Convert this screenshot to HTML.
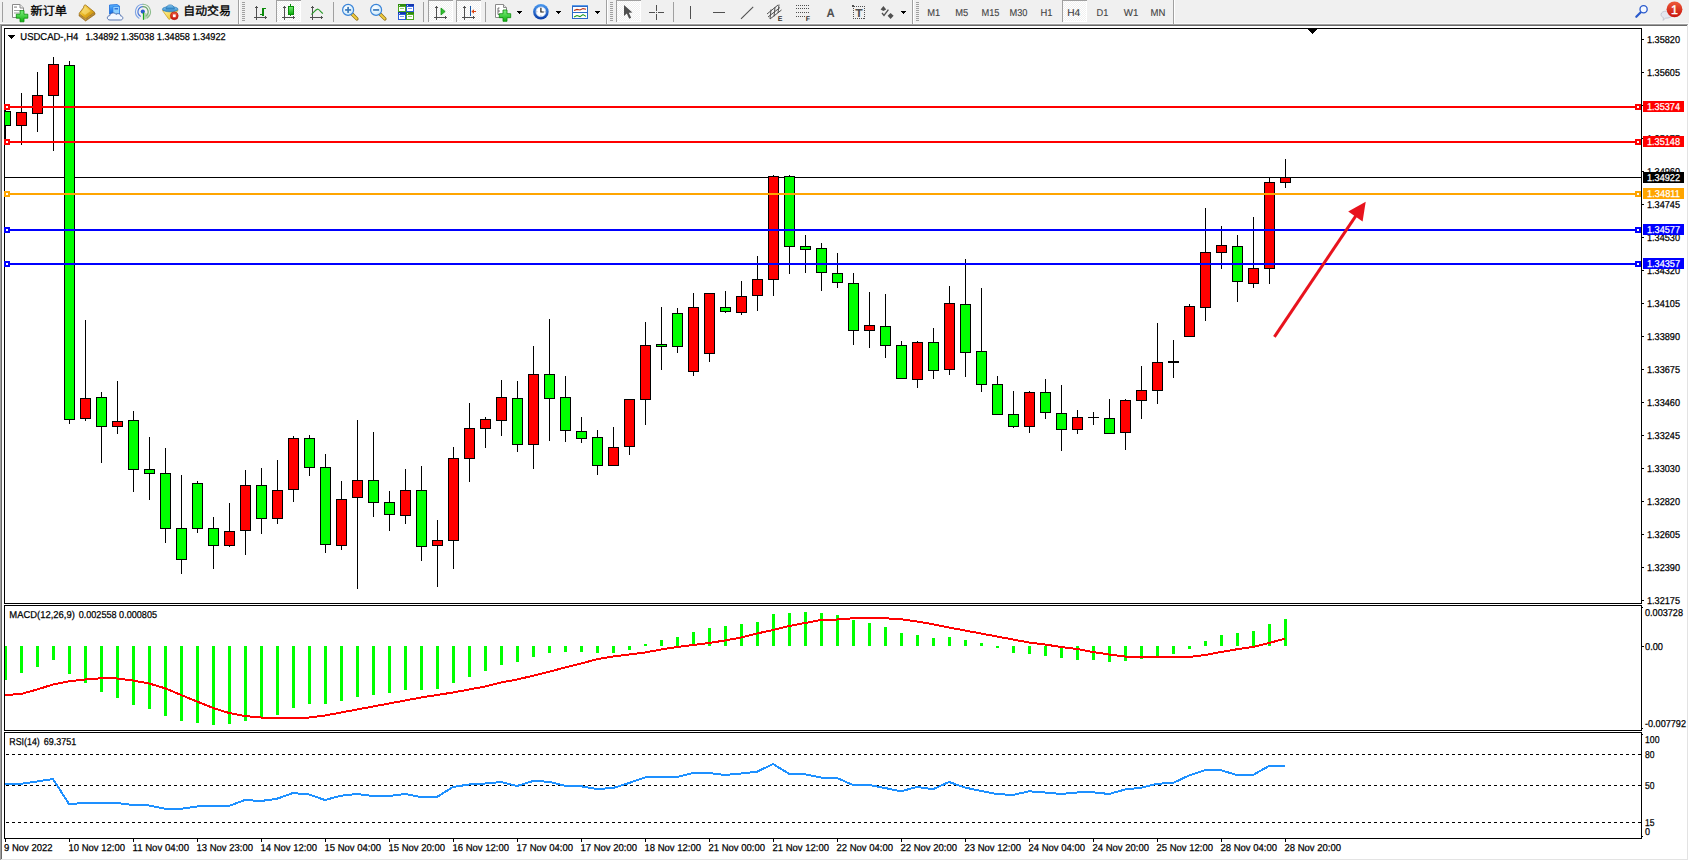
<!DOCTYPE html>
<html lang="zh"><head><meta charset="utf-8"><title>USDCAD-,H4</title>
<style>
html,body{margin:0;padding:0;background:#fff;width:1689px;height:861px;overflow:hidden}
svg{display:block;position:absolute;left:0;top:0}
text{font-family:"Liberation Sans","Noto Sans CJK SC",sans-serif;white-space:pre;text-rendering:geometricPrecision}
.c{shape-rendering:crispEdges}
</style></head><body>
<svg width="1689" height="861" viewBox="0 0 1689 861">
<g class="c">
<rect x="0" y="0" width="1689" height="861" fill="#FFFFFF"/>
<rect x="0" y="0" width="1689" height="24" fill="#F0F0F0"/>
<rect x="0" y="23" width="1689" height="1" fill="#FAFAFA"/>
<rect x="0" y="24" width="1689" height="1" fill="#A0A0A0"/>
<rect x="0" y="25" width="1688" height="1" fill="#696969"/>
<rect x="0" y="24" width="1" height="837" fill="#A0A0A0"/>
<rect x="1" y="25" width="1" height="835" fill="#696969"/>
<rect x="1687" y="25" width="1" height="835" fill="#E3E3E3"/>
<rect x="1688" y="24" width="1" height="837" fill="#FFFFFF"/>
<rect x="1" y="859" width="1687" height="1" fill="#E3E3E3"/>
<rect x="0" y="860" width="1689" height="1" fill="#FFFFFF"/>
</g>
<g class="c" fill="none" stroke="#000" stroke-width="1">
<rect x="4.5" y="28.5" width="1637" height="575"/>
<rect x="4.5" y="605.5" width="1637" height="125"/>
<rect x="4.5" y="732.5" width="1637" height="106"/>
</g>
<g class="c">
<rect x="5" y="177" width="1636" height="1" fill="#000"/>
</g>
<g class="c">
<rect x="5" y="106" width="1" height="33" fill="#000"/>
<rect x="5" y="111" width="6" height="15" fill="#000"/>
<rect x="5" y="112" width="5" height="13" fill="#00FF00"/>
<rect x="21" y="93" width="1" height="52" fill="#000"/>
<rect x="16" y="112" width="11" height="14" fill="#000"/>
<rect x="17" y="113" width="9" height="12" fill="#FF0000"/>
<rect x="37" y="72" width="1" height="60" fill="#000"/>
<rect x="32" y="95" width="11" height="19" fill="#000"/>
<rect x="33" y="96" width="9" height="17" fill="#FF0000"/>
<rect x="53" y="57" width="1" height="94" fill="#000"/>
<rect x="48" y="64" width="11" height="32" fill="#000"/>
<rect x="49" y="65" width="9" height="30" fill="#FF0000"/>
<rect x="69" y="61" width="1" height="363" fill="#000"/>
<rect x="64" y="65" width="11" height="355" fill="#000"/>
<rect x="65" y="66" width="9" height="353" fill="#00FF00"/>
<rect x="85" y="320" width="1" height="101" fill="#000"/>
<rect x="80" y="398" width="11" height="21" fill="#000"/>
<rect x="81" y="399" width="9" height="19" fill="#FF0000"/>
<rect x="101" y="392" width="1" height="71" fill="#000"/>
<rect x="96" y="397" width="11" height="30" fill="#000"/>
<rect x="97" y="398" width="9" height="28" fill="#00FF00"/>
<rect x="117" y="381" width="1" height="53" fill="#000"/>
<rect x="112" y="421" width="11" height="6" fill="#000"/>
<rect x="113" y="422" width="9" height="4" fill="#FF0000"/>
<rect x="133" y="411" width="1" height="81" fill="#000"/>
<rect x="128" y="420" width="11" height="50" fill="#000"/>
<rect x="129" y="421" width="9" height="48" fill="#00FF00"/>
<rect x="149" y="437" width="1" height="63" fill="#000"/>
<rect x="144" y="469" width="11" height="5" fill="#000"/>
<rect x="145" y="470" width="9" height="3" fill="#00FF00"/>
<rect x="165" y="448" width="1" height="95" fill="#000"/>
<rect x="160" y="473" width="11" height="56" fill="#000"/>
<rect x="161" y="474" width="9" height="54" fill="#00FF00"/>
<rect x="181" y="475" width="1" height="99" fill="#000"/>
<rect x="176" y="528" width="11" height="32" fill="#000"/>
<rect x="177" y="529" width="9" height="30" fill="#00FF00"/>
<rect x="197" y="481" width="1" height="52" fill="#000"/>
<rect x="192" y="483" width="11" height="46" fill="#000"/>
<rect x="193" y="484" width="9" height="44" fill="#00FF00"/>
<rect x="213" y="517" width="1" height="52" fill="#000"/>
<rect x="208" y="528" width="11" height="18" fill="#000"/>
<rect x="209" y="529" width="9" height="16" fill="#00FF00"/>
<rect x="229" y="503" width="1" height="44" fill="#000"/>
<rect x="224" y="531" width="11" height="15" fill="#000"/>
<rect x="225" y="532" width="9" height="13" fill="#FF0000"/>
<rect x="245" y="470" width="1" height="85" fill="#000"/>
<rect x="240" y="485" width="11" height="46" fill="#000"/>
<rect x="241" y="486" width="9" height="44" fill="#FF0000"/>
<rect x="261" y="468" width="1" height="66" fill="#000"/>
<rect x="256" y="485" width="11" height="34" fill="#000"/>
<rect x="257" y="486" width="9" height="32" fill="#00FF00"/>
<rect x="277" y="460" width="1" height="64" fill="#000"/>
<rect x="272" y="490" width="11" height="29" fill="#000"/>
<rect x="273" y="491" width="9" height="27" fill="#FF0000"/>
<rect x="293" y="436" width="1" height="66" fill="#000"/>
<rect x="288" y="438" width="11" height="52" fill="#000"/>
<rect x="289" y="439" width="9" height="50" fill="#FF0000"/>
<rect x="309" y="435" width="1" height="41" fill="#000"/>
<rect x="304" y="438" width="11" height="30" fill="#000"/>
<rect x="305" y="439" width="9" height="28" fill="#00FF00"/>
<rect x="325" y="454" width="1" height="99" fill="#000"/>
<rect x="320" y="467" width="11" height="78" fill="#000"/>
<rect x="321" y="468" width="9" height="76" fill="#00FF00"/>
<rect x="341" y="481" width="1" height="69" fill="#000"/>
<rect x="336" y="499" width="11" height="47" fill="#000"/>
<rect x="337" y="500" width="9" height="45" fill="#FF0000"/>
<rect x="357" y="420" width="1" height="169" fill="#000"/>
<rect x="352" y="480" width="11" height="18" fill="#000"/>
<rect x="353" y="481" width="9" height="16" fill="#FF0000"/>
<rect x="373" y="432" width="1" height="85" fill="#000"/>
<rect x="368" y="480" width="11" height="23" fill="#000"/>
<rect x="369" y="481" width="9" height="21" fill="#00FF00"/>
<rect x="389" y="491" width="1" height="40" fill="#000"/>
<rect x="384" y="502" width="11" height="13" fill="#000"/>
<rect x="385" y="503" width="9" height="11" fill="#00FF00"/>
<rect x="405" y="469" width="1" height="55" fill="#000"/>
<rect x="400" y="490" width="11" height="26" fill="#000"/>
<rect x="401" y="491" width="9" height="24" fill="#FF0000"/>
<rect x="421" y="466" width="1" height="95" fill="#000"/>
<rect x="416" y="490" width="11" height="57" fill="#000"/>
<rect x="417" y="491" width="9" height="55" fill="#00FF00"/>
<rect x="437" y="520" width="1" height="67" fill="#000"/>
<rect x="432" y="540" width="11" height="6" fill="#000"/>
<rect x="433" y="541" width="9" height="4" fill="#FF0000"/>
<rect x="453" y="447" width="1" height="122" fill="#000"/>
<rect x="448" y="458" width="11" height="83" fill="#000"/>
<rect x="449" y="459" width="9" height="81" fill="#FF0000"/>
<rect x="469" y="403" width="1" height="79" fill="#000"/>
<rect x="464" y="428" width="11" height="31" fill="#000"/>
<rect x="465" y="429" width="9" height="29" fill="#FF0000"/>
<rect x="485" y="417" width="1" height="31" fill="#000"/>
<rect x="480" y="419" width="11" height="10" fill="#000"/>
<rect x="481" y="420" width="9" height="8" fill="#FF0000"/>
<rect x="501" y="380" width="1" height="56" fill="#000"/>
<rect x="496" y="397" width="11" height="24" fill="#000"/>
<rect x="497" y="398" width="9" height="22" fill="#FF0000"/>
<rect x="517" y="381" width="1" height="71" fill="#000"/>
<rect x="512" y="398" width="11" height="47" fill="#000"/>
<rect x="513" y="399" width="9" height="45" fill="#00FF00"/>
<rect x="533" y="346" width="1" height="123" fill="#000"/>
<rect x="528" y="374" width="11" height="71" fill="#000"/>
<rect x="529" y="375" width="9" height="69" fill="#FF0000"/>
<rect x="549" y="319" width="1" height="122" fill="#000"/>
<rect x="544" y="374" width="11" height="25" fill="#000"/>
<rect x="545" y="375" width="9" height="23" fill="#00FF00"/>
<rect x="565" y="376" width="1" height="66" fill="#000"/>
<rect x="560" y="397" width="11" height="34" fill="#000"/>
<rect x="561" y="398" width="9" height="32" fill="#00FF00"/>
<rect x="581" y="417" width="1" height="26" fill="#000"/>
<rect x="576" y="431" width="11" height="8" fill="#000"/>
<rect x="577" y="432" width="9" height="6" fill="#00FF00"/>
<rect x="597" y="430" width="1" height="45" fill="#000"/>
<rect x="592" y="437" width="11" height="29" fill="#000"/>
<rect x="593" y="438" width="9" height="27" fill="#00FF00"/>
<rect x="613" y="427" width="1" height="39" fill="#000"/>
<rect x="608" y="447" width="11" height="19" fill="#000"/>
<rect x="609" y="448" width="9" height="17" fill="#FF0000"/>
<rect x="629" y="399" width="1" height="56" fill="#000"/>
<rect x="624" y="399" width="11" height="48" fill="#000"/>
<rect x="625" y="400" width="9" height="46" fill="#FF0000"/>
<rect x="645" y="322" width="1" height="103" fill="#000"/>
<rect x="640" y="345" width="11" height="55" fill="#000"/>
<rect x="641" y="346" width="9" height="53" fill="#FF0000"/>
<rect x="661" y="307" width="1" height="63" fill="#000"/>
<rect x="656" y="344" width="11" height="3" fill="#000"/>
<rect x="657" y="345" width="9" height="1" fill="#00FF00"/>
<rect x="677" y="308" width="1" height="45" fill="#000"/>
<rect x="672" y="313" width="11" height="34" fill="#000"/>
<rect x="673" y="314" width="9" height="32" fill="#00FF00"/>
<rect x="693" y="293" width="1" height="83" fill="#000"/>
<rect x="688" y="307" width="11" height="65" fill="#000"/>
<rect x="689" y="308" width="9" height="63" fill="#FF0000"/>
<rect x="709" y="293" width="1" height="69" fill="#000"/>
<rect x="704" y="293" width="11" height="61" fill="#000"/>
<rect x="705" y="294" width="9" height="59" fill="#FF0000"/>
<rect x="725" y="291" width="1" height="22" fill="#000"/>
<rect x="720" y="307" width="11" height="5" fill="#000"/>
<rect x="721" y="308" width="9" height="3" fill="#00FF00"/>
<rect x="741" y="281" width="1" height="34" fill="#000"/>
<rect x="736" y="296" width="11" height="17" fill="#000"/>
<rect x="737" y="297" width="9" height="15" fill="#FF0000"/>
<rect x="757" y="256" width="1" height="55" fill="#000"/>
<rect x="752" y="279" width="11" height="17" fill="#000"/>
<rect x="753" y="280" width="9" height="15" fill="#FF0000"/>
<rect x="773" y="175" width="1" height="121" fill="#000"/>
<rect x="768" y="176" width="11" height="104" fill="#000"/>
<rect x="769" y="177" width="9" height="102" fill="#FF0000"/>
<rect x="789" y="175" width="1" height="99" fill="#000"/>
<rect x="784" y="176" width="11" height="71" fill="#000"/>
<rect x="785" y="177" width="9" height="69" fill="#00FF00"/>
<rect x="805" y="235" width="1" height="38" fill="#000"/>
<rect x="800" y="246" width="11" height="4" fill="#000"/>
<rect x="801" y="247" width="9" height="2" fill="#00FF00"/>
<rect x="821" y="243" width="1" height="48" fill="#000"/>
<rect x="816" y="248" width="11" height="25" fill="#000"/>
<rect x="817" y="249" width="9" height="23" fill="#00FF00"/>
<rect x="837" y="253" width="1" height="35" fill="#000"/>
<rect x="832" y="273" width="11" height="10" fill="#000"/>
<rect x="833" y="274" width="9" height="8" fill="#00FF00"/>
<rect x="853" y="273" width="1" height="72" fill="#000"/>
<rect x="848" y="283" width="11" height="48" fill="#000"/>
<rect x="849" y="284" width="9" height="46" fill="#00FF00"/>
<rect x="869" y="292" width="1" height="56" fill="#000"/>
<rect x="864" y="325" width="11" height="6" fill="#000"/>
<rect x="865" y="326" width="9" height="4" fill="#FF0000"/>
<rect x="885" y="294" width="1" height="64" fill="#000"/>
<rect x="880" y="326" width="11" height="20" fill="#000"/>
<rect x="881" y="327" width="9" height="18" fill="#00FF00"/>
<rect x="901" y="341" width="1" height="38" fill="#000"/>
<rect x="896" y="345" width="11" height="34" fill="#000"/>
<rect x="897" y="346" width="9" height="32" fill="#00FF00"/>
<rect x="917" y="341" width="1" height="47" fill="#000"/>
<rect x="912" y="342" width="11" height="38" fill="#000"/>
<rect x="913" y="343" width="9" height="36" fill="#FF0000"/>
<rect x="933" y="328" width="1" height="51" fill="#000"/>
<rect x="928" y="342" width="11" height="29" fill="#000"/>
<rect x="929" y="343" width="9" height="27" fill="#00FF00"/>
<rect x="949" y="286" width="1" height="89" fill="#000"/>
<rect x="944" y="303" width="11" height="67" fill="#000"/>
<rect x="945" y="304" width="9" height="65" fill="#FF0000"/>
<rect x="965" y="259" width="1" height="118" fill="#000"/>
<rect x="960" y="304" width="11" height="49" fill="#000"/>
<rect x="961" y="305" width="9" height="47" fill="#00FF00"/>
<rect x="981" y="288" width="1" height="104" fill="#000"/>
<rect x="976" y="351" width="11" height="34" fill="#000"/>
<rect x="977" y="352" width="9" height="32" fill="#00FF00"/>
<rect x="997" y="376" width="1" height="39" fill="#000"/>
<rect x="992" y="384" width="11" height="31" fill="#000"/>
<rect x="993" y="385" width="9" height="29" fill="#00FF00"/>
<rect x="1013" y="391" width="1" height="37" fill="#000"/>
<rect x="1008" y="414" width="11" height="13" fill="#000"/>
<rect x="1009" y="415" width="9" height="11" fill="#00FF00"/>
<rect x="1029" y="391" width="1" height="42" fill="#000"/>
<rect x="1024" y="392" width="11" height="35" fill="#000"/>
<rect x="1025" y="393" width="9" height="33" fill="#FF0000"/>
<rect x="1045" y="379" width="1" height="40" fill="#000"/>
<rect x="1040" y="392" width="11" height="21" fill="#000"/>
<rect x="1041" y="393" width="9" height="19" fill="#00FF00"/>
<rect x="1061" y="385" width="1" height="66" fill="#000"/>
<rect x="1056" y="413" width="11" height="17" fill="#000"/>
<rect x="1057" y="414" width="9" height="15" fill="#00FF00"/>
<rect x="1077" y="410" width="1" height="24" fill="#000"/>
<rect x="1072" y="417" width="11" height="13" fill="#000"/>
<rect x="1073" y="418" width="9" height="11" fill="#FF0000"/>
<rect x="1093" y="412" width="1" height="13" fill="#000"/>
<rect x="1088" y="417" width="11" height="1" fill="#000"/>
<rect x="1109" y="399" width="1" height="35" fill="#000"/>
<rect x="1104" y="418" width="11" height="16" fill="#000"/>
<rect x="1105" y="419" width="9" height="14" fill="#00FF00"/>
<rect x="1125" y="399" width="1" height="51" fill="#000"/>
<rect x="1120" y="400" width="11" height="33" fill="#000"/>
<rect x="1121" y="401" width="9" height="31" fill="#FF0000"/>
<rect x="1141" y="366" width="1" height="53" fill="#000"/>
<rect x="1136" y="390" width="11" height="11" fill="#000"/>
<rect x="1137" y="391" width="9" height="9" fill="#FF0000"/>
<rect x="1157" y="323" width="1" height="81" fill="#000"/>
<rect x="1152" y="362" width="11" height="29" fill="#000"/>
<rect x="1153" y="363" width="9" height="27" fill="#FF0000"/>
<rect x="1173" y="340" width="1" height="38" fill="#000"/>
<rect x="1168" y="361" width="11" height="2" fill="#000"/>
<rect x="1189" y="304" width="1" height="33" fill="#000"/>
<rect x="1184" y="306" width="11" height="31" fill="#000"/>
<rect x="1185" y="307" width="9" height="29" fill="#FF0000"/>
<rect x="1205" y="208" width="1" height="113" fill="#000"/>
<rect x="1200" y="252" width="11" height="56" fill="#000"/>
<rect x="1201" y="253" width="9" height="54" fill="#FF0000"/>
<rect x="1221" y="226" width="1" height="43" fill="#000"/>
<rect x="1216" y="245" width="11" height="8" fill="#000"/>
<rect x="1217" y="246" width="9" height="6" fill="#FF0000"/>
<rect x="1237" y="235" width="1" height="67" fill="#000"/>
<rect x="1232" y="246" width="11" height="36" fill="#000"/>
<rect x="1233" y="247" width="9" height="34" fill="#00FF00"/>
<rect x="1253" y="217" width="1" height="71" fill="#000"/>
<rect x="1248" y="268" width="11" height="16" fill="#000"/>
<rect x="1249" y="269" width="9" height="14" fill="#FF0000"/>
<rect x="1269" y="177" width="1" height="107" fill="#000"/>
<rect x="1264" y="182" width="11" height="87" fill="#000"/>
<rect x="1265" y="183" width="9" height="85" fill="#FF0000"/>
<rect x="1285" y="159" width="1" height="29" fill="#000"/>
<rect x="1280" y="177" width="11" height="6" fill="#000"/>
<rect x="1281" y="178" width="9" height="4" fill="#FF0000"/>
</g>
<g class="c">
<rect x="5" y="106" width="1636" height="2" fill="#FF0000"/>
<rect x="4" y="104" width="6" height="6" fill="#FF0000"/>
<rect x="6" y="106" width="2" height="2" fill="#FFF"/>
<rect x="1635" y="104" width="6" height="6" fill="#FF0000"/>
<rect x="1637" y="106" width="2" height="2" fill="#FFF"/>
<rect x="5" y="141" width="1636" height="2" fill="#FF0000"/>
<rect x="4" y="139" width="6" height="6" fill="#FF0000"/>
<rect x="6" y="141" width="2" height="2" fill="#FFF"/>
<rect x="1635" y="139" width="6" height="6" fill="#FF0000"/>
<rect x="1637" y="141" width="2" height="2" fill="#FFF"/>
<rect x="5" y="193" width="1636" height="2" fill="#FFA500"/>
<rect x="4" y="191" width="6" height="6" fill="#FFA500"/>
<rect x="6" y="193" width="2" height="2" fill="#FFF"/>
<rect x="1635" y="191" width="6" height="6" fill="#FFA500"/>
<rect x="1637" y="193" width="2" height="2" fill="#FFF"/>
<rect x="5" y="229" width="1636" height="2" fill="#0000FF"/>
<rect x="4" y="227" width="6" height="6" fill="#0000FF"/>
<rect x="6" y="229" width="2" height="2" fill="#FFF"/>
<rect x="1635" y="227" width="6" height="6" fill="#0000FF"/>
<rect x="1637" y="229" width="2" height="2" fill="#FFF"/>
<rect x="5" y="263" width="1636" height="2" fill="#0000FF"/>
<rect x="4" y="261" width="6" height="6" fill="#0000FF"/>
<rect x="6" y="263" width="2" height="2" fill="#FFF"/>
<rect x="1635" y="261" width="6" height="6" fill="#0000FF"/>
<rect x="1637" y="263" width="2" height="2" fill="#FFF"/>
</g>
<g>
<line x1="1274.4" y1="336.9" x2="1356" y2="215.6" stroke="#E8131D" stroke-width="3"/>
<polygon points="1365.7,201.8 1348.2,211.5 1362.6,221.5" fill="#E8131D"/>
</g>
<g class="c">
<rect x="1308" y="29" width="9" height="1" fill="#000"/>
<rect x="1309" y="30" width="7" height="1" fill="#000"/>
<rect x="1310" y="31" width="5" height="1" fill="#000"/>
<rect x="1311" y="32" width="3" height="1" fill="#000"/>
<rect x="1312" y="33" width="1" height="1" fill="#000"/>
</g>
<g class="c">
<rect x="5" y="646" width="2" height="34" fill="#00FF00"/>
<rect x="20" y="646" width="3" height="27" fill="#00FF00"/>
<rect x="36" y="646" width="3" height="21" fill="#00FF00"/>
<rect x="52" y="646" width="3" height="14" fill="#00FF00"/>
<rect x="68" y="646" width="3" height="28" fill="#00FF00"/>
<rect x="84" y="646" width="3" height="37" fill="#00FF00"/>
<rect x="100" y="646" width="3" height="46" fill="#00FF00"/>
<rect x="116" y="646" width="3" height="52" fill="#00FF00"/>
<rect x="132" y="646" width="3" height="59" fill="#00FF00"/>
<rect x="148" y="646" width="3" height="63" fill="#00FF00"/>
<rect x="164" y="646" width="3" height="70" fill="#00FF00"/>
<rect x="180" y="646" width="3" height="75" fill="#00FF00"/>
<rect x="196" y="646" width="3" height="77" fill="#00FF00"/>
<rect x="212" y="646" width="3" height="79" fill="#00FF00"/>
<rect x="228" y="646" width="3" height="78" fill="#00FF00"/>
<rect x="244" y="646" width="3" height="75" fill="#00FF00"/>
<rect x="260" y="646" width="3" height="72" fill="#00FF00"/>
<rect x="276" y="646" width="3" height="69" fill="#00FF00"/>
<rect x="292" y="646" width="3" height="62" fill="#00FF00"/>
<rect x="308" y="646" width="3" height="58" fill="#00FF00"/>
<rect x="324" y="646" width="3" height="58" fill="#00FF00"/>
<rect x="340" y="646" width="3" height="55" fill="#00FF00"/>
<rect x="356" y="646" width="3" height="51" fill="#00FF00"/>
<rect x="372" y="646" width="3" height="49" fill="#00FF00"/>
<rect x="388" y="646" width="3" height="47" fill="#00FF00"/>
<rect x="404" y="646" width="3" height="44" fill="#00FF00"/>
<rect x="420" y="646" width="3" height="44" fill="#00FF00"/>
<rect x="436" y="646" width="3" height="43" fill="#00FF00"/>
<rect x="452" y="646" width="3" height="37" fill="#00FF00"/>
<rect x="468" y="646" width="3" height="31" fill="#00FF00"/>
<rect x="484" y="646" width="3" height="25" fill="#00FF00"/>
<rect x="500" y="646" width="3" height="19" fill="#00FF00"/>
<rect x="516" y="646" width="3" height="16" fill="#00FF00"/>
<rect x="532" y="646" width="3" height="11" fill="#00FF00"/>
<rect x="548" y="646" width="3" height="7" fill="#00FF00"/>
<rect x="564" y="646" width="3" height="6" fill="#00FF00"/>
<rect x="580" y="646" width="3" height="6" fill="#00FF00"/>
<rect x="596" y="646" width="3" height="7" fill="#00FF00"/>
<rect x="612" y="646" width="3" height="7" fill="#00FF00"/>
<rect x="628" y="646" width="3" height="4" fill="#00FF00"/>
<rect x="644" y="644" width="3" height="2" fill="#00FF00"/>
<rect x="660" y="640" width="3" height="6" fill="#00FF00"/>
<rect x="676" y="637" width="3" height="9" fill="#00FF00"/>
<rect x="692" y="632" width="3" height="14" fill="#00FF00"/>
<rect x="708" y="628" width="3" height="18" fill="#00FF00"/>
<rect x="724" y="626" width="3" height="20" fill="#00FF00"/>
<rect x="740" y="624" width="3" height="22" fill="#00FF00"/>
<rect x="756" y="622" width="3" height="24" fill="#00FF00"/>
<rect x="772" y="614" width="3" height="32" fill="#00FF00"/>
<rect x="788" y="613" width="3" height="33" fill="#00FF00"/>
<rect x="804" y="612" width="3" height="34" fill="#00FF00"/>
<rect x="820" y="613" width="3" height="33" fill="#00FF00"/>
<rect x="836" y="615" width="3" height="31" fill="#00FF00"/>
<rect x="852" y="620" width="3" height="26" fill="#00FF00"/>
<rect x="868" y="623" width="3" height="23" fill="#00FF00"/>
<rect x="884" y="627" width="3" height="19" fill="#00FF00"/>
<rect x="900" y="633" width="3" height="13" fill="#00FF00"/>
<rect x="916" y="635" width="3" height="11" fill="#00FF00"/>
<rect x="932" y="638" width="3" height="8" fill="#00FF00"/>
<rect x="948" y="637" width="3" height="9" fill="#00FF00"/>
<rect x="964" y="640" width="3" height="6" fill="#00FF00"/>
<rect x="980" y="643" width="3" height="3" fill="#00FF00"/>
<rect x="996" y="646" width="3" height="2" fill="#00FF00"/>
<rect x="1012" y="646" width="3" height="7" fill="#00FF00"/>
<rect x="1028" y="646" width="3" height="8" fill="#00FF00"/>
<rect x="1044" y="646" width="3" height="10" fill="#00FF00"/>
<rect x="1060" y="646" width="3" height="12" fill="#00FF00"/>
<rect x="1076" y="646" width="3" height="14" fill="#00FF00"/>
<rect x="1092" y="646" width="3" height="14" fill="#00FF00"/>
<rect x="1108" y="646" width="3" height="16" fill="#00FF00"/>
<rect x="1124" y="646" width="3" height="15" fill="#00FF00"/>
<rect x="1140" y="646" width="3" height="13" fill="#00FF00"/>
<rect x="1156" y="646" width="3" height="10" fill="#00FF00"/>
<rect x="1172" y="646" width="3" height="8" fill="#00FF00"/>
<rect x="1188" y="646" width="3" height="3" fill="#00FF00"/>
<rect x="1204" y="641" width="3" height="5" fill="#00FF00"/>
<rect x="1220" y="635" width="3" height="11" fill="#00FF00"/>
<rect x="1236" y="633" width="3" height="13" fill="#00FF00"/>
<rect x="1252" y="631" width="3" height="15" fill="#00FF00"/>
<rect x="1268" y="624" width="3" height="22" fill="#00FF00"/>
<rect x="1284" y="619" width="3" height="27" fill="#00FF00"/>
<polyline points="5,695.00 21,694.00 37,689.50 53,684.50 69,681.25 85,679.50 101,678.25 117,678.50 133,680.50 149,683.50 165,688.25 181,695.00 197,701.50 213,708.00 229,713.00 245,716.00 261,717.50 277,717.50 293,717.50 309,717.50 325,715.50 341,712.50 357,709.50 373,706.50 389,703.50 405,700.50 421,697.50 437,695.00 453,692.50 469,689.50 485,686.50 501,682.50 517,679.50 533,675.75 549,671.75 565,667.50 581,663.50 597,659.25 613,656.50 629,654.50 645,652.50 661,649.50 677,647.00 693,645.00 709,643.00 725,640.50 741,637.50 757,633.50 773,630.00 789,626.00 805,623.00 821,620.00 837,619.50 853,618.25 869,618.00 885,618.25 901,619.25 917,621.50 933,624.25 949,627.50 965,630.50 981,633.50 997,636.50 1013,639.50 1029,642.50 1045,644.50 1061,647.00 1077,649.00 1093,652.00 1109,654.50 1125,656.50 1141,657.00 1157,657.00 1173,657.00 1189,657.00 1205,655.00 1221,652.00 1237,649.25 1253,647.00 1269,643.00 1285,638.75" fill="none" stroke="#FF0000" stroke-width="2" stroke-linejoin="round"/>
</g>
<g class="c">
<line x1="6" y1="754.5" x2="1641" y2="754.5" stroke="#000" stroke-width="1" stroke-dasharray="3 3"/>
<line x1="6" y1="785.5" x2="1641" y2="785.5" stroke="#000" stroke-width="1" stroke-dasharray="3 3"/>
<line x1="6" y1="822.5" x2="1641" y2="822.5" stroke="#000" stroke-width="1" stroke-dasharray="3 3"/>
<polyline points="5,784.50 21,783.75 37,781.50 53,779.00 69,804.00 85,803.00 101,803.00 117,803.00 133,805.00 149,805.50 165,808.75 181,808.75 197,806.50 213,806.00 229,806.00 245,800.00 261,801.00 277,798.75 293,793.00 309,794.50 325,800.00 341,795.75 357,794.00 373,796.00 389,796.00 405,794.00 421,797.00 437,797.00 453,787.00 469,784.50 485,783.50 501,782.00 517,786.00 533,781.00 549,781.75 565,785.75 581,786.25 597,789.00 613,788.00 629,783.00 645,777.50 661,777.00 677,777.00 693,773.00 709,773.00 725,775.00 741,773.50 757,771.75 773,764.00 789,773.75 805,774.25 821,777.50 837,778.00 853,785.00 869,785.00 885,788.00 901,791.25 917,787.00 933,789.25 949,782.00 965,787.50 981,791.00 997,794.00 1013,795.00 1029,791.25 1045,792.50 1061,794.00 1077,792.50 1093,792.25 1109,794.00 1125,789.50 1141,787.75 1157,783.75 1173,783.00 1189,775.50 1205,770.25 1221,770.25 1237,775.00 1253,775.00 1269,766.00 1285,766.00" fill="none" stroke="#1E90FF" stroke-width="2" stroke-linejoin="round"/>
</g>
<g class="c">
<rect x="1642" y="39" width="2" height="1" fill="#000"/>
<rect x="1642" y="72" width="2" height="1" fill="#000"/>
<rect x="1642" y="105" width="2" height="1" fill="#000"/>
<rect x="1642" y="138" width="2" height="1" fill="#000"/>
<rect x="1642" y="171" width="2" height="1" fill="#000"/>
<rect x="1642" y="204" width="2" height="1" fill="#000"/>
<rect x="1642" y="237" width="2" height="1" fill="#000"/>
<rect x="1642" y="270" width="2" height="1" fill="#000"/>
<rect x="1642" y="303" width="2" height="1" fill="#000"/>
<rect x="1642" y="336" width="2" height="1" fill="#000"/>
<rect x="1642" y="369" width="2" height="1" fill="#000"/>
<rect x="1642" y="402" width="2" height="1" fill="#000"/>
<rect x="1642" y="435" width="2" height="1" fill="#000"/>
<rect x="1642" y="468" width="2" height="1" fill="#000"/>
<rect x="1642" y="501" width="2" height="1" fill="#000"/>
<rect x="1642" y="534" width="2" height="1" fill="#000"/>
<rect x="1642" y="567" width="2" height="1" fill="#000"/>
<rect x="1642" y="600" width="2" height="1" fill="#000"/>
</g>
<text x="1647" y="43" font-size="10" fill="#000" textLength="33" lengthAdjust="spacingAndGlyphs" stroke="#000" stroke-width="0.25">1.35820</text>
<text x="1647" y="76" font-size="10" fill="#000" textLength="33" lengthAdjust="spacingAndGlyphs" stroke="#000" stroke-width="0.25">1.35605</text>
<text x="1647" y="109" font-size="10" fill="#000" textLength="33" lengthAdjust="spacingAndGlyphs" stroke="#000" stroke-width="0.25">1.35390</text>
<text x="1647" y="142" font-size="10" fill="#000" textLength="33" lengthAdjust="spacingAndGlyphs" stroke="#000" stroke-width="0.25">1.35175</text>
<text x="1647" y="175" font-size="10" fill="#000" textLength="33" lengthAdjust="spacingAndGlyphs" stroke="#000" stroke-width="0.25">1.34960</text>
<text x="1647" y="208" font-size="10" fill="#000" textLength="33" lengthAdjust="spacingAndGlyphs" stroke="#000" stroke-width="0.25">1.34745</text>
<text x="1647" y="241" font-size="10" fill="#000" textLength="33" lengthAdjust="spacingAndGlyphs" stroke="#000" stroke-width="0.25">1.34530</text>
<text x="1647" y="274" font-size="10" fill="#000" textLength="33" lengthAdjust="spacingAndGlyphs" stroke="#000" stroke-width="0.25">1.34320</text>
<text x="1647" y="307" font-size="10" fill="#000" textLength="33" lengthAdjust="spacingAndGlyphs" stroke="#000" stroke-width="0.25">1.34105</text>
<text x="1647" y="340" font-size="10" fill="#000" textLength="33" lengthAdjust="spacingAndGlyphs" stroke="#000" stroke-width="0.25">1.33890</text>
<text x="1647" y="373" font-size="10" fill="#000" textLength="33" lengthAdjust="spacingAndGlyphs" stroke="#000" stroke-width="0.25">1.33675</text>
<text x="1647" y="406" font-size="10" fill="#000" textLength="33" lengthAdjust="spacingAndGlyphs" stroke="#000" stroke-width="0.25">1.33460</text>
<text x="1647" y="439" font-size="10" fill="#000" textLength="33" lengthAdjust="spacingAndGlyphs" stroke="#000" stroke-width="0.25">1.33245</text>
<text x="1647" y="472" font-size="10" fill="#000" textLength="33" lengthAdjust="spacingAndGlyphs" stroke="#000" stroke-width="0.25">1.33030</text>
<text x="1647" y="505" font-size="10" fill="#000" textLength="33" lengthAdjust="spacingAndGlyphs" stroke="#000" stroke-width="0.25">1.32820</text>
<text x="1647" y="538" font-size="10" fill="#000" textLength="33" lengthAdjust="spacingAndGlyphs" stroke="#000" stroke-width="0.25">1.32605</text>
<text x="1647" y="571" font-size="10" fill="#000" textLength="33" lengthAdjust="spacingAndGlyphs" stroke="#000" stroke-width="0.25">1.32390</text>
<text x="1647" y="604" font-size="10" fill="#000" textLength="33" lengthAdjust="spacingAndGlyphs" stroke="#000" stroke-width="0.25">1.32175</text>
<g class="c">
<rect x="1642" y="607" width="1" height="1" fill="#000"/>
<rect x="1642" y="646" width="2" height="1" fill="#000"/>
<rect x="1642" y="728" width="1" height="1" fill="#000"/>
<rect x="1642" y="734" width="1" height="1" fill="#000"/>
<rect x="1642" y="836" width="1" height="1" fill="#000"/>
</g>
<text x="1645" y="616" font-size="10" fill="#000" textLength="38" lengthAdjust="spacingAndGlyphs" stroke="#000" stroke-width="0.25">0.003728</text>
<text x="1645" y="650" font-size="10" fill="#000" textLength="18" lengthAdjust="spacingAndGlyphs" stroke="#000" stroke-width="0.25">0.00</text>
<text x="1645" y="727" font-size="10" fill="#000" textLength="41" lengthAdjust="spacingAndGlyphs" stroke="#000" stroke-width="0.25">-0.007792</text>
<text x="1645" y="743" font-size="10" fill="#000" textLength="14.5" lengthAdjust="spacingAndGlyphs" stroke="#000" stroke-width="0.25">100</text>
<text x="1645" y="758" font-size="10" fill="#000" textLength="9.5" lengthAdjust="spacingAndGlyphs" stroke="#000" stroke-width="0.25">80</text>
<text x="1645" y="789" font-size="10" fill="#000" textLength="9.5" lengthAdjust="spacingAndGlyphs" stroke="#000" stroke-width="0.25">50</text>
<text x="1645" y="826" font-size="10" fill="#000" textLength="9.5" lengthAdjust="spacingAndGlyphs" stroke="#000" stroke-width="0.25">15</text>
<text x="1645" y="835" font-size="10" fill="#000" textLength="5" lengthAdjust="spacingAndGlyphs" stroke="#000" stroke-width="0.25">0</text>
<g class="c">
<rect x="1643" y="101" width="41" height="11" fill="#FF0000"/>
<rect x="1643" y="136" width="41" height="11" fill="#FF0000"/>
<rect x="1643" y="172" width="41" height="11" fill="#000000"/>
<rect x="1643" y="188" width="41" height="11" fill="#FFA500"/>
<rect x="1643" y="224" width="41" height="11" fill="#0000FF"/>
<rect x="1643" y="258" width="41" height="11" fill="#0000FF"/>
</g>
<text x="1647" y="110" font-size="10" fill="#FFF" textLength="33" lengthAdjust="spacingAndGlyphs" stroke="#FFF" stroke-width="0.25">1.35374</text>
<text x="1647" y="145" font-size="10" fill="#FFF" textLength="33" lengthAdjust="spacingAndGlyphs" stroke="#FFF" stroke-width="0.25">1.35148</text>
<text x="1647" y="181" font-size="10" fill="#FFF" textLength="33" lengthAdjust="spacingAndGlyphs" stroke="#FFF" stroke-width="0.25">1.34922</text>
<text x="1647" y="197" font-size="10" fill="#FFF" textLength="33" lengthAdjust="spacingAndGlyphs" stroke="#FFF" stroke-width="0.25">1.34811</text>
<text x="1647" y="233" font-size="10" fill="#FFF" textLength="33" lengthAdjust="spacingAndGlyphs" stroke="#FFF" stroke-width="0.25">1.34577</text>
<text x="1647" y="267" font-size="10" fill="#FFF" textLength="33" lengthAdjust="spacingAndGlyphs" stroke="#FFF" stroke-width="0.25">1.34357</text>
<polygon class="c" points="8,35 15,35 11.5,39" fill="#000"/>
<text x="20.3" y="40" font-size="10" fill="#000" textLength="58" lengthAdjust="spacingAndGlyphs" stroke="#000" stroke-width="0.25">USDCAD-,H4</text>
<text x="85.4" y="40" font-size="10" fill="#000" textLength="140.3" lengthAdjust="spacingAndGlyphs" stroke="#000" stroke-width="0.25">1.34892 1.35038 1.34858 1.34922</text>
<text x="9.3" y="618" font-size="10" fill="#000" textLength="65.5" lengthAdjust="spacingAndGlyphs" stroke="#000" stroke-width="0.25">MACD(12,26,9)</text>
<text x="78.7" y="618" font-size="10" fill="#000" textLength="78.3" lengthAdjust="spacingAndGlyphs" stroke="#000" stroke-width="0.25">0.002558 0.000805</text>
<text x="9.3" y="745" font-size="10" fill="#000" textLength="30.5" lengthAdjust="spacingAndGlyphs" stroke="#000" stroke-width="0.25">RSI(14)</text>
<text x="43.7" y="745" font-size="10" fill="#000" textLength="32.5" lengthAdjust="spacingAndGlyphs" stroke="#000" stroke-width="0.25">69.3751</text>
<g class="c">
<rect x="5" y="839" width="1" height="3" fill="#000"/>
<rect x="69" y="839" width="1" height="3" fill="#000"/>
<rect x="133" y="839" width="1" height="3" fill="#000"/>
<rect x="197" y="839" width="1" height="3" fill="#000"/>
<rect x="261" y="839" width="1" height="3" fill="#000"/>
<rect x="325" y="839" width="1" height="3" fill="#000"/>
<rect x="389" y="839" width="1" height="3" fill="#000"/>
<rect x="453" y="839" width="1" height="3" fill="#000"/>
<rect x="517" y="839" width="1" height="3" fill="#000"/>
<rect x="581" y="839" width="1" height="3" fill="#000"/>
<rect x="645" y="839" width="1" height="3" fill="#000"/>
<rect x="709" y="839" width="1" height="3" fill="#000"/>
<rect x="773" y="839" width="1" height="3" fill="#000"/>
<rect x="837" y="839" width="1" height="3" fill="#000"/>
<rect x="901" y="839" width="1" height="3" fill="#000"/>
<rect x="965" y="839" width="1" height="3" fill="#000"/>
<rect x="1029" y="839" width="1" height="3" fill="#000"/>
<rect x="1093" y="839" width="1" height="3" fill="#000"/>
<rect x="1157" y="839" width="1" height="3" fill="#000"/>
<rect x="1221" y="839" width="1" height="3" fill="#000"/>
<rect x="1285" y="839" width="1" height="3" fill="#000"/>
</g>
<text x="4" y="851" font-size="10" fill="#000" textLength="48.5" lengthAdjust="spacingAndGlyphs" stroke="#000" stroke-width="0.25">9 Nov 2022</text>
<text x="68.5" y="851" font-size="10" fill="#000" textLength="56.5" lengthAdjust="spacingAndGlyphs" stroke="#000" stroke-width="0.25">10 Nov 12:00</text>
<text x="132.5" y="851" font-size="10" fill="#000" textLength="56.5" lengthAdjust="spacingAndGlyphs" stroke="#000" stroke-width="0.25">11 Nov 04:00</text>
<text x="196.5" y="851" font-size="10" fill="#000" textLength="56.5" lengthAdjust="spacingAndGlyphs" stroke="#000" stroke-width="0.25">13 Nov 23:00</text>
<text x="260.5" y="851" font-size="10" fill="#000" textLength="56.5" lengthAdjust="spacingAndGlyphs" stroke="#000" stroke-width="0.25">14 Nov 12:00</text>
<text x="324.5" y="851" font-size="10" fill="#000" textLength="56.5" lengthAdjust="spacingAndGlyphs" stroke="#000" stroke-width="0.25">15 Nov 04:00</text>
<text x="388.5" y="851" font-size="10" fill="#000" textLength="56.5" lengthAdjust="spacingAndGlyphs" stroke="#000" stroke-width="0.25">15 Nov 20:00</text>
<text x="452.5" y="851" font-size="10" fill="#000" textLength="56.5" lengthAdjust="spacingAndGlyphs" stroke="#000" stroke-width="0.25">16 Nov 12:00</text>
<text x="516.5" y="851" font-size="10" fill="#000" textLength="56.5" lengthAdjust="spacingAndGlyphs" stroke="#000" stroke-width="0.25">17 Nov 04:00</text>
<text x="580.5" y="851" font-size="10" fill="#000" textLength="56.5" lengthAdjust="spacingAndGlyphs" stroke="#000" stroke-width="0.25">17 Nov 20:00</text>
<text x="644.5" y="851" font-size="10" fill="#000" textLength="56.5" lengthAdjust="spacingAndGlyphs" stroke="#000" stroke-width="0.25">18 Nov 12:00</text>
<text x="708.5" y="851" font-size="10" fill="#000" textLength="56.5" lengthAdjust="spacingAndGlyphs" stroke="#000" stroke-width="0.25">21 Nov 00:00</text>
<text x="772.5" y="851" font-size="10" fill="#000" textLength="56.5" lengthAdjust="spacingAndGlyphs" stroke="#000" stroke-width="0.25">21 Nov 12:00</text>
<text x="836.5" y="851" font-size="10" fill="#000" textLength="56.5" lengthAdjust="spacingAndGlyphs" stroke="#000" stroke-width="0.25">22 Nov 04:00</text>
<text x="900.5" y="851" font-size="10" fill="#000" textLength="56.5" lengthAdjust="spacingAndGlyphs" stroke="#000" stroke-width="0.25">22 Nov 20:00</text>
<text x="964.5" y="851" font-size="10" fill="#000" textLength="56.5" lengthAdjust="spacingAndGlyphs" stroke="#000" stroke-width="0.25">23 Nov 12:00</text>
<text x="1028.5" y="851" font-size="10" fill="#000" textLength="56.5" lengthAdjust="spacingAndGlyphs" stroke="#000" stroke-width="0.25">24 Nov 04:00</text>
<text x="1092.5" y="851" font-size="10" fill="#000" textLength="56.5" lengthAdjust="spacingAndGlyphs" stroke="#000" stroke-width="0.25">24 Nov 20:00</text>
<text x="1156.5" y="851" font-size="10" fill="#000" textLength="56.5" lengthAdjust="spacingAndGlyphs" stroke="#000" stroke-width="0.25">25 Nov 12:00</text>
<text x="1220.5" y="851" font-size="10" fill="#000" textLength="56.5" lengthAdjust="spacingAndGlyphs" stroke="#000" stroke-width="0.25">28 Nov 04:00</text>
<text x="1284.5" y="851" font-size="10" fill="#000" textLength="56.5" lengthAdjust="spacingAndGlyphs" stroke="#000" stroke-width="0.25">28 Nov 20:00</text>
<defs>
<linearGradient id="gGold" x1="0" y1="0" x2="1" y2="1"><stop offset="0" stop-color="#FBE27A"/><stop offset="0.5" stop-color="#E9B520"/><stop offset="1" stop-color="#B07812"/></linearGradient>
<linearGradient id="gGreen" x1="0" y1="0" x2="0" y2="1"><stop offset="0" stop-color="#7CF07C"/><stop offset="1" stop-color="#10B010"/></linearGradient>
<linearGradient id="gBlue" x1="0" y1="0" x2="0" y2="1"><stop offset="0" stop-color="#5AB4FF"/><stop offset="1" stop-color="#1468E0"/></linearGradient>
<linearGradient id="gRedC" x1="0" y1="0" x2="0" y2="1"><stop offset="0" stop-color="#EE5A3A"/><stop offset="1" stop-color="#C8140C"/></linearGradient>
<radialGradient id="gLens" cx="0.4" cy="0.35" r="0.8"><stop offset="0" stop-color="#FFFFFF"/><stop offset="1" stop-color="#BFE3FA"/></radialGradient>
<linearGradient id="gClock" x1="0" y1="0" x2="0" y2="1"><stop offset="0" stop-color="#4A9AF0"/><stop offset="1" stop-color="#0A3CA8"/></linearGradient>
<linearGradient id="gHat" x1="0" y1="0" x2="0" y2="1"><stop offset="0" stop-color="#8CCBF0"/><stop offset="1" stop-color="#2E86C8"/></linearGradient>
<linearGradient id="gFace" x1="0" y1="0" x2="1" y2="1"><stop offset="0" stop-color="#FFF4A0"/><stop offset="1" stop-color="#E8B810"/></linearGradient>
<pattern id="dith" width="2" height="2" patternUnits="userSpaceOnUse"><rect width="2" height="2" fill="#F0F0F0"/><rect width="1" height="1" fill="#FFF"/><rect x="1" y="1" width="1" height="1" fill="#FFF"/></pattern>
</defs>
<rect class="c" x="2" y="2" width="1" height="20" fill="#A0A0A0"/>
<g>
<path d="M12.5 4.5 H20 L23.5 8 V17.5 H12.5 Z" fill="#FFFFFF" stroke="#8A8A8A" stroke-width="1"/>
<path d="M20 4.5 V8 H23.5" fill="#E8E8E8" stroke="#8A8A8A" stroke-width="1"/>
<rect x="14" y="6.5" width="3" height="1.2" fill="#909090"/>
<rect x="14" y="10" width="7" height="1" fill="#A0A0A0"/>
<rect x="14" y="12.5" width="5" height="1" fill="#A0A0A0"/>
<path d="M20 10.6 H24 V14.2 H27.8 V18.2 H24 V21.8 H20 V18.2 H16.3 V14.2 H20 Z" fill="url(#gGreen)" stroke="#0A8A0A" stroke-width="0.8"/>
</g>
<text x="30.5" y="15.3" font-size="12" fill="#000" textLength="36.5" lengthAdjust="spacingAndGlyphs" stroke="#000" stroke-width="0.35">新订单</text>
<path d="M79 14.4 L85.6 19.9 L95 13 L95 14.4 L85.6 21 L79 15.8 Z" fill="#C89428" stroke="#8A5A0C" stroke-width="0.6" stroke-linejoin="round"/>
<path d="M84.6 5.2 C83.6 5.6 83.4 6.6 84 7 L79 13.6 L85.6 19 L94.8 12.4 L85.6 5 Z" fill="url(#gGold)" stroke="#9A6A10" stroke-width="0.8" stroke-linejoin="round"/>
<path d="M85 6.6 L90.6 11 L85 15 L81.6 12.2 Z" fill="#FFF0A0" opacity="0.45"/>
<path d="M109.5 5 L117 4.5 L119.5 6 V14 H109.5 Z" fill="url(#gBlue)" stroke="#1E6EDC" stroke-width="0.8"/>
<path d="M113 6.5 H119.5 V14 H113 Z" fill="#8FD0FF" stroke="#2A7AE0" stroke-width="0.6"/>
<rect x="114.5" y="8.2" width="3.5" height="1.2" fill="#1E5ED0"/>
<path d="M110 20 C106.5 20 106.5 15.8 109.8 15.6 C110 12.6 114.6 12 116 14.4 C118 12.8 121 14 120.6 16 C123.6 16 123.6 20 120.5 20 Z" fill="#F4F8FF" stroke="#4A6AA8" stroke-width="0.9"/>
<g fill="none" stroke-linecap="round">
<path d="M143 4.2 A7.6 7.6 0 0 0 139 18.2" stroke="#7FA4E4" stroke-width="1.1"/>
<path d="M143 6.6 A5.2 5.2 0 0 0 140.4 16.2" stroke="#4A78DC" stroke-width="1.2"/>
<path d="M143 4.2 A7.6 7.6 0 0 1 147.5 17.8" stroke="#8CBC8C" stroke-width="1.1"/>
<path d="M143 6.6 A5.2 5.2 0 0 1 146 16" stroke="#6AA86A" stroke-width="1.2"/>
</g>
<path d="M143 12 L150 15 A7.6 7.6 0 0 1 143.4 19.6 Z" fill="#8CC08C" opacity="0.55"/>
<circle cx="142.8" cy="11.6" r="2.1" fill="#2A5AD0"/>
<rect x="142.9" y="12.5" width="1.2" height="7.3" fill="#18A818"/>
<path d="M162.5 10.5 L178 10.5 L172 17 L169 19.5 Z" fill="url(#gFace)" stroke="#C89A10" stroke-width="0.7"/>
<ellipse cx="170.2" cy="9.2" rx="7.8" ry="2.6" fill="url(#gHat)" stroke="#2878B8" stroke-width="0.7"/>
<path d="M166 9 C166 3.5 174.4 3.5 174.4 9 Z" fill="url(#gHat)" stroke="#2878B8" stroke-width="0.7"/>
<circle cx="174.3" cy="15.8" r="3.9" fill="url(#gRedC)" stroke="#A81008" stroke-width="0.6"/>
<rect x="172.9" y="14.4" width="2.8" height="2.8" fill="#FFFFFF"/>
<text x="183.3" y="15.3" font-size="12" fill="#000" textLength="47.5" lengthAdjust="spacingAndGlyphs" stroke="#000" stroke-width="0.35">自动交易</text>
<rect class="c" x="238" y="0" width="1" height="24" fill="#A0A0A0"/>
<rect class="c" x="239" y="0" width="1" height="24" fill="#FFFFFF"/>
<rect class="c" x="242" y="2" width="3" height="1" fill="#A0A0A0"/>
<rect class="c" x="242" y="4" width="3" height="1" fill="#A0A0A0"/>
<rect class="c" x="242" y="6" width="3" height="1" fill="#A0A0A0"/>
<rect class="c" x="242" y="8" width="3" height="1" fill="#A0A0A0"/>
<rect class="c" x="242" y="10" width="3" height="1" fill="#A0A0A0"/>
<rect class="c" x="242" y="12" width="3" height="1" fill="#A0A0A0"/>
<rect class="c" x="242" y="14" width="3" height="1" fill="#A0A0A0"/>
<rect class="c" x="242" y="16" width="3" height="1" fill="#A0A0A0"/>
<rect class="c" x="242" y="18" width="3" height="1" fill="#A0A0A0"/>
<rect class="c" x="242" y="20" width="3" height="1" fill="#A0A0A0"/>
<g class="c" fill="#505050">
<rect x="256" y="7" width="1" height="13"/>
<rect x="254" y="17" width="13" height="1"/>
<rect x="255" y="7" width="3" height="1"/>
<rect x="256" y="6" width="1" height="1"/>
<rect x="265" y="16" width="1" height="3"/>
<rect x="266" y="17" width="1" height="1"/>
</g>
<g class="c" fill="#0A8A0A"><rect x="262" y="8" width="2" height="8"/><rect x="264" y="8" width="2" height="1"/><rect x="260" y="14" width="2" height="1"/></g>
<rect class="c" x="276" y="0" width="25" height="22" fill="url(#dith)"/>
<rect class="c" x="276" y="0" width="25" height="1" fill="#A0A0A0"/>
<rect class="c" x="276" y="0" width="1" height="22" fill="#A0A0A0"/>
<rect class="c" x="300" y="1" width="1" height="21" fill="#FFFFFF"/>
<rect class="c" x="277" y="21" width="24" height="1" fill="#FFFFFF"/>
<g class="c" fill="#505050">
<rect x="284" y="7" width="1" height="13"/>
<rect x="282" y="17" width="13" height="1"/>
<rect x="283" y="7" width="3" height="1"/>
<rect x="284" y="6" width="1" height="1"/>
<rect x="293" y="16" width="1" height="3"/>
<rect x="294" y="17" width="1" height="1"/>
</g>
<rect class="c" x="290" y="4" width="1" height="12" fill="#0A8A0A"/>
<rect class="c" x="288" y="6" width="5" height="8" fill="url(#gGreen)" stroke="#0A8A0A" stroke-width="1"/>
<g class="c" fill="#505050">
<rect x="312" y="7" width="1" height="13"/>
<rect x="310" y="17" width="13" height="1"/>
<rect x="311" y="7" width="3" height="1"/>
<rect x="312" y="6" width="1" height="1"/>
<rect x="321" y="16" width="1" height="3"/>
<rect x="322" y="17" width="1" height="1"/>
</g>
<path d="M311.5 14.5 C314 12.5 316 8.6 318 9.2 C320 9.8 321 12.6 323 13.4" fill="none" stroke="#2A9A2A" stroke-width="1.1"/>
<rect class="c" x="333" y="2" width="1" height="20" fill="#A0A0A0"/>
<line x1="352.3" y1="14.3" x2="356.90000000000003" y2="18.9" stroke="#8A6A10" stroke-width="3.4" stroke-linecap="round"/>
<line x1="352.5" y1="14.5" x2="356.70000000000005" y2="18.7" stroke="#F0CC40" stroke-width="2" stroke-linecap="round"/>
<circle cx="348.1" cy="9.9" r="5.5" fill="url(#gLens)" stroke="#3A84D8" stroke-width="1.2"/>
<rect x="345.1" y="9.1" width="6" height="1.7" fill="#3A78B8"/>
<rect x="347.25" y="6.9" width="1.7" height="6" fill="#3A78B8"/>
<line x1="380.3" y1="14.3" x2="384.90000000000003" y2="18.9" stroke="#8A6A10" stroke-width="3.4" stroke-linecap="round"/>
<line x1="380.5" y1="14.5" x2="384.70000000000005" y2="18.7" stroke="#F0CC40" stroke-width="2" stroke-linecap="round"/>
<circle cx="376.1" cy="9.9" r="5.5" fill="url(#gLens)" stroke="#3A84D8" stroke-width="1.2"/>
<rect x="373.1" y="9.1" width="6" height="1.7" fill="#3A78B8"/>
<rect class="c" x="398" y="4" width="8" height="8" fill="#4AA81E"/>
<rect class="c" x="398" y="4" width="8" height="2" fill="#2E8A10"/>
<rect class="c" x="399" y="7" width="6" height="4" fill="#FFFFFF"/>
<rect class="c" x="400" y="8" width="4" height="1" fill="#4AA81E" opacity="0.6"/>
<rect class="c" x="399" y="5" width="1" height="1" fill="#FFFFFF" opacity="0.8"/>
<rect class="c" x="406" y="4" width="8" height="8" fill="#2A5AD8"/>
<rect class="c" x="406" y="4" width="8" height="2" fill="#1438B0"/>
<rect class="c" x="407" y="7" width="6" height="4" fill="#FFFFFF"/>
<rect class="c" x="408" y="8" width="4" height="1" fill="#2A5AD8" opacity="0.6"/>
<rect class="c" x="407" y="5" width="1" height="1" fill="#FFFFFF" opacity="0.8"/>
<rect class="c" x="398" y="12" width="8" height="8" fill="#2A5AD8"/>
<rect class="c" x="398" y="12" width="8" height="2" fill="#1438B0"/>
<rect class="c" x="399" y="15" width="6" height="4" fill="#FFFFFF"/>
<rect class="c" x="400" y="16" width="4" height="1" fill="#2A5AD8" opacity="0.6"/>
<rect class="c" x="399" y="13" width="1" height="1" fill="#FFFFFF" opacity="0.8"/>
<rect class="c" x="406" y="12" width="8" height="8" fill="#4AA81E"/>
<rect class="c" x="406" y="12" width="8" height="2" fill="#2E8A10"/>
<rect class="c" x="407" y="15" width="6" height="4" fill="#FFFFFF"/>
<rect class="c" x="408" y="16" width="4" height="1" fill="#4AA81E" opacity="0.6"/>
<rect class="c" x="407" y="13" width="1" height="1" fill="#FFFFFF" opacity="0.8"/>
<rect class="c" x="423" y="2" width="1" height="20" fill="#A0A0A0"/>
<rect class="c" x="428" y="0" width="25" height="22" fill="url(#dith)"/>
<rect class="c" x="428" y="0" width="25" height="1" fill="#A0A0A0"/>
<rect class="c" x="428" y="0" width="1" height="22" fill="#A0A0A0"/>
<rect class="c" x="452" y="1" width="1" height="21" fill="#FFFFFF"/>
<rect class="c" x="429" y="21" width="24" height="1" fill="#FFFFFF"/>
<g class="c" fill="#505050">
<rect x="436" y="7" width="1" height="13"/>
<rect x="434" y="17" width="13" height="1"/>
<rect x="435" y="7" width="3" height="1"/>
<rect x="436" y="6" width="1" height="1"/>
<rect x="445" y="16" width="1" height="3"/>
<rect x="446" y="17" width="1" height="1"/>
</g>
<polygon points="441,8 445.2,11.5 441,15" fill="#30C030" stroke="#0A8A0A" stroke-width="0.7"/>
<rect class="c" x="456" y="0" width="25" height="22" fill="url(#dith)"/>
<rect class="c" x="456" y="0" width="25" height="1" fill="#A0A0A0"/>
<rect class="c" x="456" y="0" width="1" height="22" fill="#A0A0A0"/>
<rect class="c" x="480" y="1" width="1" height="21" fill="#FFFFFF"/>
<rect class="c" x="457" y="21" width="24" height="1" fill="#FFFFFF"/>
<g class="c" fill="#505050">
<rect x="464" y="7" width="1" height="13"/>
<rect x="462" y="17" width="13" height="1"/>
<rect x="463" y="7" width="3" height="1"/>
<rect x="464" y="6" width="1" height="1"/>
<rect x="473" y="16" width="1" height="3"/>
<rect x="474" y="17" width="1" height="1"/>
</g>
<rect class="c" x="470" y="6" width="1" height="10" fill="#1A5AA8"/>
<path d="M471.4 11.5 L474 9.3 V10.9 H476 V12.1 H474 V13.7 Z" fill="#D84010"/>
<rect class="c" x="485" y="2" width="1" height="20" fill="#A0A0A0"/>
<path d="M495.5 4.5 H503.5 L506.5 7.5 V17.5 H495.5 Z" fill="#FFFFFF" stroke="#8A8A8A" stroke-width="1"/>
<path d="M503.5 4.5 V7.5 H506.5" fill="#E8E8E8" stroke="#8A8A8A" stroke-width="1"/>
<path d="M499.5 8 H498 V14.5 H499.5 M498 11 H500" fill="none" stroke="#606060" stroke-width="0.9"/>
<path d="M503 10 H507 V13.7 H510.7 V17.7 H507 V21.3 H503 V17.7 H499.3 V13.7 H503 Z" fill="url(#gGreen)" stroke="#0A8A0A" stroke-width="0.8"/>
<polygon class="c" points="517,11 522,11 519.5,14" fill="#000"/>
<circle cx="540.9" cy="11.8" r="7.8" fill="url(#gClock)"/>
<circle cx="540.9" cy="11.8" r="4.9" fill="#FFFFFF"/>
<circle cx="540.9" cy="11.8" r="4.9" fill="none" stroke="#C8D8F0" stroke-width="0.8"/>
<path d="M540.9 8 V12 H543.8" fill="none" stroke="#202020" stroke-width="1.2"/>
<g fill="#8090B0"><rect x="540.5" y="7.2" width="0.8" height="1"/><rect x="540.5" y="15.4" width="0.8" height="1"/><rect x="536.4" y="11.4" width="1" height="0.8"/><rect x="544.6" y="11.4" width="1" height="0.8"/></g>
<polygon class="c" points="556,11 561,11 558.5,14" fill="#000"/>
<rect class="c" x="572" y="5" width="16" height="14" fill="#2A6AC8"/>
<rect class="c" x="573" y="7" width="14" height="5" fill="#FFFFFF"/>
<rect class="c" x="573" y="13" width="14" height="5" fill="#FFFFFF"/>
<rect class="c" x="572" y="5" width="16" height="1" fill="#5A9AE8"/>
<path d="M574 10.6 L577 9.4 L580 10 L583 8.6 L586 9.2" fill="none" stroke="#B83010" stroke-width="1.1"/>
<path d="M574 17 L577 15.6 L580 16.6 L583 14.6 L586 16.4" fill="none" stroke="#1A9A1A" stroke-width="1.1"/>
<polygon class="c" points="595,11 600,11 597.5,14" fill="#000"/>
<rect class="c" x="606" y="0" width="1" height="24" fill="#A0A0A0"/>
<rect class="c" x="607" y="0" width="1" height="24" fill="#FFFFFF"/>
<rect class="c" x="610" y="2" width="3" height="1" fill="#A0A0A0"/>
<rect class="c" x="610" y="4" width="3" height="1" fill="#A0A0A0"/>
<rect class="c" x="610" y="6" width="3" height="1" fill="#A0A0A0"/>
<rect class="c" x="610" y="8" width="3" height="1" fill="#A0A0A0"/>
<rect class="c" x="610" y="10" width="3" height="1" fill="#A0A0A0"/>
<rect class="c" x="610" y="12" width="3" height="1" fill="#A0A0A0"/>
<rect class="c" x="610" y="14" width="3" height="1" fill="#A0A0A0"/>
<rect class="c" x="610" y="16" width="3" height="1" fill="#A0A0A0"/>
<rect class="c" x="610" y="18" width="3" height="1" fill="#A0A0A0"/>
<rect class="c" x="610" y="20" width="3" height="1" fill="#A0A0A0"/>
<rect class="c" x="616" y="0" width="25" height="22" fill="url(#dith)"/>
<rect class="c" x="616" y="0" width="25" height="1" fill="#A0A0A0"/>
<rect class="c" x="616" y="0" width="1" height="22" fill="#A0A0A0"/>
<rect class="c" x="640" y="1" width="1" height="21" fill="#FFFFFF"/>
<rect class="c" x="617" y="21" width="24" height="1" fill="#FFFFFF"/>
<path d="M624 5 V16 L626.8 13.6 L629.2 18.8 L631.2 17.8 L628.8 12.8 L632.4 12.4 Z" fill="#505050"/>
<g class="c" fill="#505050"><rect x="656" y="5" width="1" height="6"/><rect x="656" y="14" width="1" height="6"/><rect x="649" y="12" width="6" height="1"/><rect x="658" y="12" width="6" height="1"/><rect x="656" y="12" width="1" height="1"/></g>
<rect class="c" x="673" y="2" width="1" height="20" fill="#A0A0A0"/>
<rect class="c" x="690" y="6" width="1" height="13" fill="#505050"/>
<rect class="c" x="713" y="12" width="12" height="1" fill="#505050"/>
<line x1="741" y1="18.8" x2="753.2" y2="6.8" stroke="#505050" stroke-width="1.1"/>
<g stroke="#505050" stroke-width="1" fill="none">
<line x1="767" y1="14" x2="778" y2="5"/><line x1="768" y1="17" x2="780" y2="7.5"/><line x1="770" y1="19" x2="781.5" y2="10"/>
<line x1="771" y1="9.5" x2="770" y2="19"/><line x1="775" y1="7" x2="774" y2="16.5"/><line x1="779" y1="4.5" x2="778" y2="13"/>
</g>
<text x="777.8" y="20.8" font-size="7" fill="#303030" font-weight="bold">E</text>
<g stroke="#505050" stroke-width="1" stroke-dasharray="1 1" class="c">
<line x1="796" y1="5.5" x2="809" y2="5.5"/>
<line x1="796" y1="8.5" x2="809" y2="8.5"/>
<line x1="796" y1="12.5" x2="809" y2="12.5"/>
<line x1="796" y1="16.5" x2="805" y2="16.5"/>
</g>
<text x="805.8" y="20.8" font-size="7" fill="#303030" font-weight="bold">F</text>
<text x="826.6" y="16.9" font-size="12" fill="#505050" textLength="8.2" lengthAdjust="spacingAndGlyphs" font-weight="bold">A</text>
<rect class="c" x="853.5" y="6.5" width="11" height="12" fill="none" stroke="#505050" stroke-width="1" stroke-dasharray="1 1"/>
<rect class="c" x="852" y="5" width="2" height="2" fill="#505050"/>
<text x="855.3" y="17" font-size="11.5" fill="#505050" textLength="7.4" lengthAdjust="spacingAndGlyphs" font-weight="bold">T</text>
<g fill="#505050">
<polygon points="883.4,6 886.2,9.4 883.4,11 880.6,9.4"/>
<polygon points="890.6,13 893.6,15.8 890.6,19 887.6,15.8"/>
</g>
<path d="M882 13 L884 15.4 L888.4 9.6" fill="none" stroke="#505050" stroke-width="1.3"/>
<polygon class="c" points="901,11 906,11 903.5,14" fill="#000"/>
<rect class="c" x="912" y="0" width="1" height="24" fill="#A0A0A0"/>
<rect class="c" x="913" y="0" width="1" height="24" fill="#FFFFFF"/>
<rect class="c" x="916" y="2" width="3" height="1" fill="#A0A0A0"/>
<rect class="c" x="916" y="4" width="3" height="1" fill="#A0A0A0"/>
<rect class="c" x="916" y="6" width="3" height="1" fill="#A0A0A0"/>
<rect class="c" x="916" y="8" width="3" height="1" fill="#A0A0A0"/>
<rect class="c" x="916" y="10" width="3" height="1" fill="#A0A0A0"/>
<rect class="c" x="916" y="12" width="3" height="1" fill="#A0A0A0"/>
<rect class="c" x="916" y="14" width="3" height="1" fill="#A0A0A0"/>
<rect class="c" x="916" y="16" width="3" height="1" fill="#A0A0A0"/>
<rect class="c" x="916" y="18" width="3" height="1" fill="#A0A0A0"/>
<rect class="c" x="916" y="20" width="3" height="1" fill="#A0A0A0"/>
<rect class="c" x="1062" y="0" width="25" height="22" fill="url(#dith)"/>
<rect class="c" x="1062" y="0" width="25" height="1" fill="#A0A0A0"/>
<rect class="c" x="1062" y="0" width="1" height="22" fill="#A0A0A0"/>
<rect class="c" x="1086" y="1" width="1" height="21" fill="#FFFFFF"/>
<rect class="c" x="1063" y="21" width="24" height="1" fill="#FFFFFF"/>
<text x="927.2" y="16" font-size="10" fill="#404040" textLength="13" lengthAdjust="spacingAndGlyphs" stroke="#404040" stroke-width="0.1">M1</text>
<text x="955.2" y="16" font-size="10" fill="#404040" textLength="13" lengthAdjust="spacingAndGlyphs" stroke="#404040" stroke-width="0.1">M5</text>
<text x="981.5" y="16" font-size="10" fill="#404040" textLength="18" lengthAdjust="spacingAndGlyphs" stroke="#404040" stroke-width="0.1">M15</text>
<text x="1009.5" y="16" font-size="10" fill="#404040" textLength="18" lengthAdjust="spacingAndGlyphs" stroke="#404040" stroke-width="0.1">M30</text>
<text x="1040.4" y="16" font-size="10" fill="#404040" textLength="12" lengthAdjust="spacingAndGlyphs" stroke="#404040" stroke-width="0.1">H1</text>
<text x="1067.2" y="16" font-size="10" fill="#404040" textLength="13" lengthAdjust="spacingAndGlyphs" stroke="#404040" stroke-width="0.1">H4</text>
<text x="1096.6" y="16" font-size="10" fill="#404040" textLength="11.8" lengthAdjust="spacingAndGlyphs" stroke="#404040" stroke-width="0.1">D1</text>
<text x="1123.8" y="16" font-size="10" fill="#404040" textLength="14.6" lengthAdjust="spacingAndGlyphs" stroke="#404040" stroke-width="0.1">W1</text>
<text x="1150.6" y="16" font-size="10" fill="#404040" textLength="14.8" lengthAdjust="spacingAndGlyphs" stroke="#404040" stroke-width="0.1">MN</text>
<rect class="c" x="1173" y="0" width="1" height="24" fill="#A0A0A0"/>
<rect class="c" x="1174" y="0" width="1" height="24" fill="#FFFFFF"/>
<line x1="1641" y1="12" x2="1636.3" y2="16.8" stroke="#2A5ACC" stroke-width="2.2" stroke-linecap="round"/>
<circle cx="1643.6" cy="9.3" r="3.6" fill="#F4F8FF" stroke="#2A5ACC" stroke-width="1.3"/>
<path d="M1661 14.5 C1661 10 1672 10 1672 14.5 C1672 17.8 1667 18.4 1665.4 18 L1663.2 20.4 L1663.4 17.6 C1661.8 17 1661 15.8 1661 14.5 Z" fill="#E4E6EE" stroke="#B4B8C4" stroke-width="0.7"/>
<circle cx="1674.5" cy="9.3" r="7.9" fill="url(#gRedC)"/>
<text x="1670.9" y="13.7" font-size="12.4" fill="#FFFFFF" stroke="#FFFFFF" stroke-width="0.4">1</text>
</svg>
</body></html>
